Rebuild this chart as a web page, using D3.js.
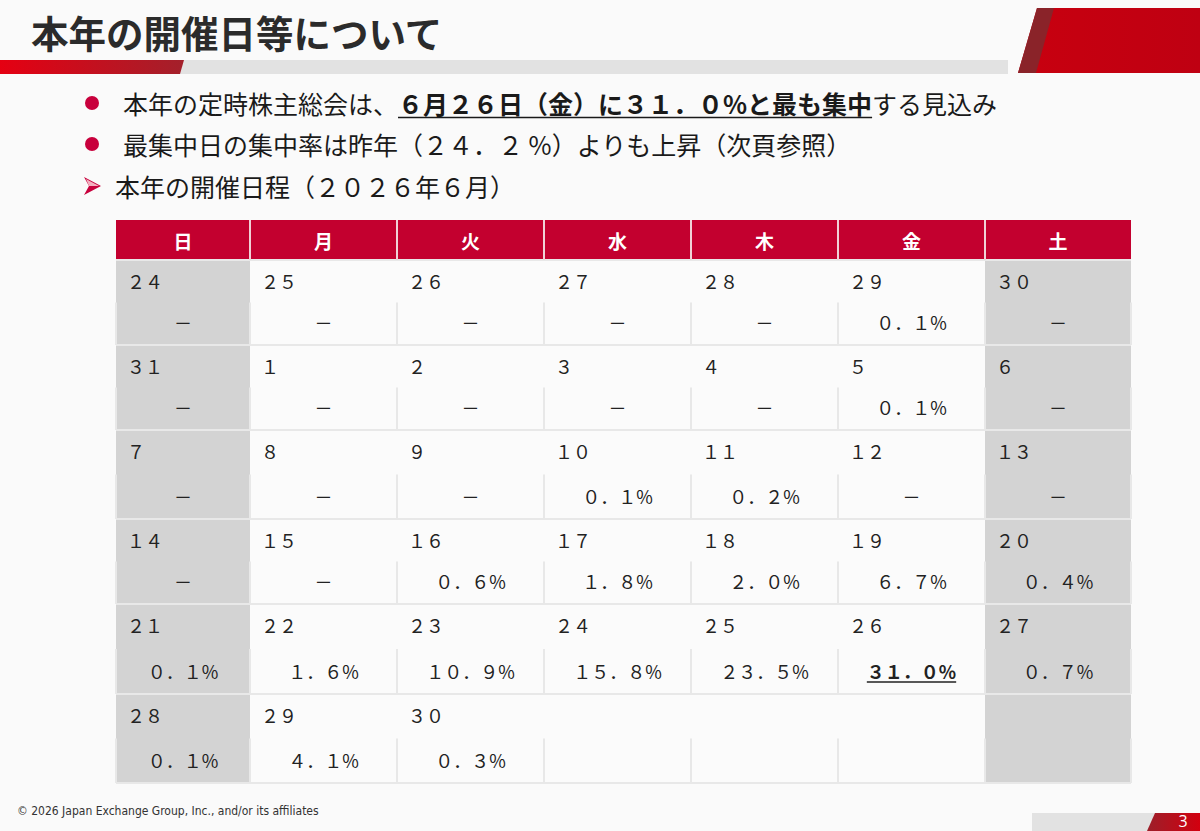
<!DOCTYPE html>
<html>
<head>
<meta charset="utf-8">
<script src="https://cdn.jsdelivr.net/npm/d3@7"></script>
<style>
  html, body { margin: 0; padding: 0; background: #fafafa; }
  svg { display: block; font-family: "Noto Sans CJK JP", "Noto Sans", sans-serif; }
</style>
</head>
<body>
<svg id="slide" width="1200" height="831"></svg>
<script>
// calendar data (June 2026)
const weekdays = ['日', '月', '火', '水', '木', '金', '土'];
const weekendCols = [0, 6];
const dayNumbers = [
  24, 25, 26, 27, 28, 29, 30,
  31, 1, 2, 3, 4, 5, 6,
  7, 8, 9, 10, 11, 12, 13,
  14, 15, 16, 17, 18, 19, 20,
  21, 22, 23, 24, 25, 26, 27,
  28, 29, 30
];
// concentration rate per day (%), null = no meetings
const rates = [
  null, null, null, null, null, 0.1, null,
  null, null, null, null, null, 0.1, null,
  null, null, null, 0.1, 0.2, null, null,
  null, null, 0.6, 1.8, 2.0, 6.7, 0.4,
  0.1, 1.6, 10.9, 15.8, 23.5, 31.0, 0.7,
  0.1, 4.1, 0.3
];
const peakIndex = 33;

const title = '本年の開催日等について';
const bullet1 = ['本年の定時株主総会は、', '６月２６日（金）に３１．０%と最も集中', 'する見込み'];
const bullet2 = '最集中日の集中率は昨年（２４．２ %）よりも上昇（次頁参照）';
const bullet3 = '本年の開催日程（２０２６年６月）';
const footer = '© 2026 Japan Exchange Group, Inc., and/or its affiliates';
const pageNo = '3';

// layout
const colWidths = [134, 147, 147, 147, 147, 147, 146];
const rowHeights = [85, 85, 89, 85, 90, 89];
const tableLeft = 116, headTop = 220, headH = 40;
const red = '#c3002f';

const svg = d3.select('#slide');
const defs = svg.append('defs');

const g1 = defs.append('linearGradient').attr('id', 'barGrad');
g1.append('stop').attr('offset', '0%').attr('stop-color', '#e50012');
g1.append('stop').attr('offset', '100%').attr('stop-color', '#a3202b');
const g2 = defs.append('linearGradient').attr('id', 'cornerGrad');
g2.append('stop').attr('offset', '0%').attr('stop-color', '#c8000f');
g2.append('stop').attr('offset', '100%').attr('stop-color', '#bf0012');
const g3 = defs.append('linearGradient').attr('id', 'pageGrad');
g3.append('stop').attr('offset', '0%').attr('stop-color', '#9c1f2a');
g3.append('stop').attr('offset', '100%').attr('stop-color', '#d2000f');

svg.append('rect').attr('width', 1200).attr('height', 831).attr('fill', '#fafafa');

// title and header decorations
svg.append('text')
  .attr('x', 31).attr('y', 31)
  .attr('dominant-baseline', 'central')
  .attr('font-size', 37.5).attr('font-weight', 700).attr('fill', '#2b2b2b')
  .text(title);

svg.append('rect').attr('x', 170).attr('y', 60).attr('width', 838).attr('height', 14).attr('fill', '#e2e2e2');
svg.append('path').attr('d', 'M0,60 L184,60 L180,74 L0,74 Z').attr('fill', 'url(#barGrad)');

svg.append('path').attr('d', 'M1037,8 L1200,8 L1200,73 L1018,73 Z').attr('fill', 'url(#cornerGrad)');
svg.append('path').attr('d', 'M1037,8 L1054,8 L1036,73 L1018,73 Z').attr('fill', '#8a2329');

// bullets
const bulletFont = 25;
[103, 144].forEach(y => {
  svg.append('circle').attr('cx', 92).attr('cy', y).attr('r', 7).attr('fill', '#c8003c');
});
svg.append('path')
  .attr('d', 'M84,177 L101,186 L84,195 L89,186 Z')
  .attr('fill', '#c8003c');
svg.append('path')
  .attr('d', 'M86,179 L99,186 L89,186 Z')
  .attr('fill', '#f3b0c0');

function line(x, y, txt, bold) {
  return svg.append('text')
    .attr('x', x).attr('y', y)
    .attr('dominant-baseline', 'central')
    .attr('font-size', bulletFont)
    .attr('font-weight', bold ? 700 : 400)
    .attr('fill', '#1a1a1a')
    .text(txt);
}

let bx = 123;
const p1 = line(bx, 103, bullet1[0], false);
bx += p1.node().getComputedTextLength();
const p2 = line(bx, 103, bullet1[1], true);
const w2 = p2.node().getComputedTextLength();
svg.append('line')
  .attr('x1', bx).attr('x2', bx + w2)
  .attr('y1', 117.5).attr('y2', 117.5)
  .attr('stroke', '#1a1a1a').attr('stroke-width', 1.6);
bx += w2;
line(bx, 103, bullet1[2], false);

line(123, 144, bullet2, false);
line(115, 186, bullet3, false);

// table
const colLefts = [tableLeft, ...d3.cumsum(colWidths).map(d => tableLeft + d)];
const rowTops = [headTop + headH, ...d3.cumsum(rowHeights).map(d => headTop + headH + d)];
const x = d3.scaleOrdinal().domain(d3.range(7)).range(colLefts.slice(0, 7));
const y = d3.scaleOrdinal().domain(d3.range(6)).range(rowTops.slice(0, 6));
const tableRight = colLefts[7];

const fullWidth = s => s.replace(/[0-9.]/g, c => String.fromCharCode(c.charCodeAt(0) + 0xFEE0));
const fmt = d3.format('.1f');

// header row
const head = svg.append('g');
head.selectAll('rect')
  .data(weekdays)
  .join('rect')
  .attr('x', (_, i) => x(i)).attr('y', headTop)
  .attr('width', (_, i) => colWidths[i]).attr('height', headH)
  .attr('fill', red);
head.selectAll('text')
  .data(weekdays)
  .join('text')
  .attr('x', (_, i) => x(i) + colWidths[i] / 2)
  .attr('y', headTop + headH / 2)
  .attr('text-anchor', 'middle').attr('dominant-baseline', 'central')
  .attr('font-size', 19).attr('font-weight', 700).attr('fill', '#fff')
  .text(d => d);

const cells = d3.range(42).map(i => ({
  i, row: Math.floor(i / 7), col: i % 7,
  day: i < dayNumbers.length ? dayNumbers[i] : undefined,
  rate: i < rates.length ? rates[i] : undefined
}));

const body = svg.append('g');
body.selectAll('rect')
  .data(cells)
  .join('rect')
  .attr('x', d => x(d.col)).attr('y', d => y(d.row))
  .attr('width', d => colWidths[d.col]).attr('height', d => rowHeights[d.row])
  .attr('fill', d => weekendCols.includes(d.col) ? '#d3d3d3' : '#fbfbfb');

// grid lines: horizontal between rows, vertical only in lower half of each row
const gridColor = '#e8e8e8';
const grid = svg.append('g').attr('stroke', gridColor).attr('stroke-width', 2);
grid.selectAll('line.h')
  .data(rowTops)
  .join('line')
  .attr('class', 'h')
  .attr('x1', tableLeft).attr('x2', tableRight)
  .attr('y1', d => d).attr('y2', d => d);
const vSegs = d3.cross(d3.range(6), colLefts);
grid.selectAll('line.v')
  .data(vSegs)
  .join('line')
  .attr('class', 'v')
  .attr('x1', d => d[1]).attr('x2', d => d[1])
  .attr('y1', d => y(d[0]) + rowHeights[d[0]] / 2)
  .attr('y2', d => y(d[0]) + rowHeights[d[0]]);
grid.selectAll('line.head')
  .data(colLefts.slice(1, 7))
  .join('line')
  .attr('class', 'head')
  .attr('stroke', '#f0d0d6')
  .attr('x1', d => d).attr('x2', d => d)
  .attr('y1', headTop).attr('y2', headTop + headH);

const filled = cells.filter(d => d.day !== undefined);

body.selectAll('text.day')
  .data(filled)
  .join('text')
  .attr('class', 'day')
  .attr('x', d => x(d.col) + 11)
  .attr('y', d => y(d.row) + 21)
  .attr('dominant-baseline', 'central')
  .attr('font-size', 18).attr('fill', '#222')
  .text(d => fullWidth(String(d.day)));

const vals = body.selectAll('text.val')
  .data(filled)
  .join('text')
  .attr('class', 'val')
  .attr('x', d => x(d.col) + colWidths[d.col] / 2)
  .attr('y', d => y(d.row) + rowHeights[d.row] - 23)
  .attr('text-anchor', 'middle').attr('dominant-baseline', 'central')
  .attr('font-size', 18).attr('fill', '#222')
  .attr('font-weight', d => d.i === peakIndex ? 700 : 400)
  .text(d => d.rate === null ? '－' : fullWidth(fmt(d.rate)) + '%');

vals.filter(d => d.i === peakIndex).each(function (d) {
  const w = this.getComputedTextLength();
  const cx = x(d.col) + colWidths[d.col] / 2;
  const yy = y(d.row) + rowHeights[d.row] - 23 + 11;
  body.append('line')
    .attr('x1', cx - w / 2).attr('x2', cx + w / 2)
    .attr('y1', yy).attr('y2', yy)
    .attr('stroke', '#222').attr('stroke-width', 1.5);
});

// footer
svg.append('text')
  .attr('x', 17).attr('y', 811)
  .attr('dominant-baseline', 'central')
  .attr('font-family', '"Liberation Sans Narrow", "DejaVu Sans Condensed", sans-serif')
  .attr('font-size', 12).attr('fill', '#333')
  .text(footer);

svg.append('rect').attr('x', 1032).attr('y', 813).attr('width', 125).attr('height', 18).attr('fill', '#e2e2e2');
svg.append('path').attr('d', 'M1155,813 L1200,813 L1200,831 L1147,831 Z').attr('fill', 'url(#pageGrad)');
svg.append('text')
  .attr('x', 1183).attr('y', 821)
  .attr('text-anchor', 'middle').attr('dominant-baseline', 'central')
  .attr('font-family', '"Open Sans", sans-serif')
  .attr('font-size', 16).attr('fill', '#fff')
  .text(pageNo);
</script>
</body>
</html>
